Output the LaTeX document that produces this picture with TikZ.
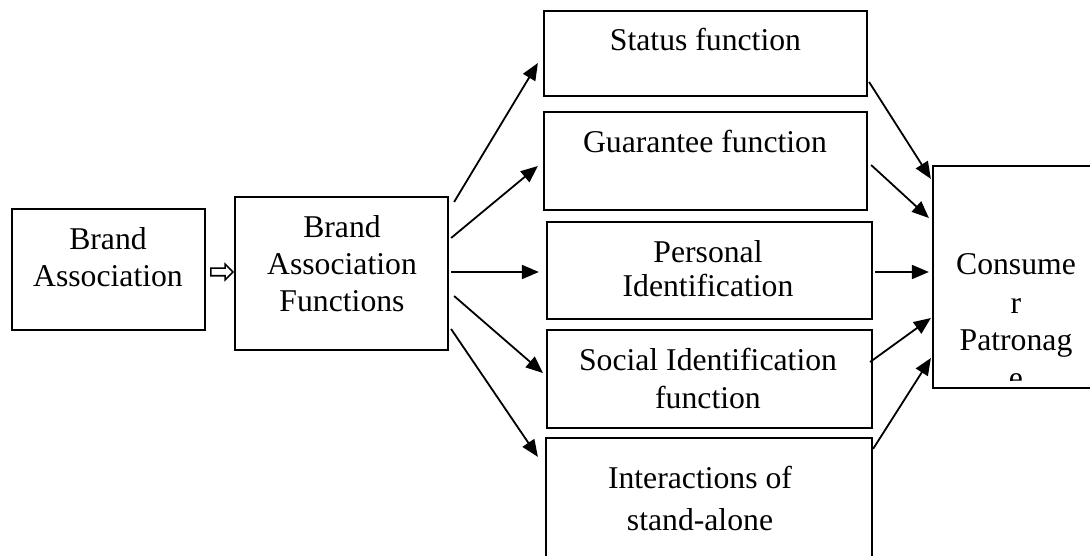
\documentclass[tikz,border=0pt]{standalone}
\usepackage{fontspec}
\setmainfont{Liberation Serif}
\usetikzlibrary{arrows.meta,shapes.arrows,calc}

\begin{document}
\begin{tikzpicture}[
    x=1pt, y=-1pt,
    box/.style={draw, line width=2.2pt, rectangle, inner sep=0pt},
    txt/.style={anchor=base, inner sep=0pt, font=\fontsize{31.7}{38}\selectfont},
    flow/.style={line width=1.8pt, -{Triangle[length=17pt,width=14pt]}},
    hollow/.style={draw, line width=1.6pt, fill=white, single arrow, shape border rotate=0,
        inner sep=3pt, minimum height=22pt, single arrow head extend=4pt,
        single arrow head indent=0pt}
]
\useasboundingbox (0,0) rectangle (1090,556);
\fill[white] (0,0) rectangle (1090,556);
\clip (0,0) rectangle (1090,556);

% source boxes
\node[box, minimum width=193pt, minimum height=121pt] (ba)  at (108.5,269.5) {};
\node[box, minimum width=213pt, minimum height=153pt] (baf) at (341.5,273.5) {};

% function boxes
\node[box, minimum width=323pt, minimum height=85pt]  (st) at (705.5,53.5) {};
\node[box, minimum width=323pt, minimum height=98pt]  (gu) at (705.5,161) {};
\node[box, minimum width=325pt, minimum height=97pt]  (pi) at (709.5,270.5) {};
\node[box, minimum width=325pt, minimum height=98pt]  (si) at (709.5,379) {};
\node[box, minimum width=326pt, minimum height=162pt] (ia) at (709,519) {};

% outcome box
\node[box, minimum width=166pt, minimum height=222pt] (cp) at (1016,277) {};

% labels
\node[txt] (ba1) at (108,250) {Brand};
\node[txt] (ba2) at (108,287) {Association};
\node[txt] (bf1) at (342,238) {Brand};
\node[txt] (bf2) at (342,274) {Association};
\node[txt] (bf3) at (342,312) {Functions};
\node[txt] (st1) at (705.5,51) {Status function};
\node[txt] (gu1) at (705,153) {Guarantee function};
\node[txt] (pi1) at (708,262) {Personal};
\node[txt] (pi2) at (708,297) {Identification};
\node[txt] (si1) at (708,370) {Social Identification};
\node[txt] (si2) at (708,408) {function};
\node[txt] (ia1) at (700,488) {Interactions of};
\node[txt] (ia2) at (700,530) {stand-alone};
\begin{scope}
  \clip (cp.north west) rectangle ($(cp.south east)+(0,-9)$);
  \node[txt] (cp1) at (1016,275) {Consume};
  \node[txt] (cp2) at (1016,313) {r};
  \node[txt] (cp3) at (1016,350) {Patronag};
  \node[txt] (cp4) at (1016,388) {e};
\end{scope}

% hollow link between the two left boxes
\node[hollow] (link) at ($(ba.east)!0.5!(baf.west)+(0,0.5)$) {};

% fan-out to the functions
\draw[flow] ($(baf.east)+(5,-71.5)$) -- ($(st.west)+(-5,9.5)$);
\draw[flow] ($(baf.east)+(2,-35.5)$) -- ($(gu.west)+(-5,5)$);
\draw[flow] ($(baf.east)+(2,-1.5)$)  -- ($(pi.west)+(-7,1.5)$);
\draw[flow] ($(baf.east)+(5,22.5)$)  -- ($(si.west)+(-3,-6)$);
\draw[flow] ($(baf.east)+(2,55.5)$)  -- ($(ia.north west)+(-7,20)$);

% fan-in to patronage
\draw[flow] ($(st.east)+(1,28.5)$)       -- ($(cp.north west)+(-1,14)$);
\draw[flow] ($(gu.east)+(3,4)$)          -- ($(cp.west)+(-3,-59)$);
\draw[flow] ($(pi.east)+(2,1.5)$)        -- ($(cp.west)+(-3,-5)$);
\draw[flow] ($(si.east)+(-3,-17)$)       -- ($(cp.west)+(-1,41)$);
\draw[flow] ($(ia.north east)+(0,12)$)   -- ($(cp.west)+(-1,81)$);
\end{tikzpicture}
\end{document}
